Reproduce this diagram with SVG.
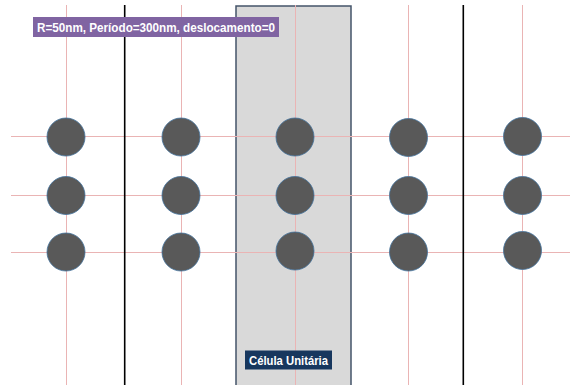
<svg xmlns="http://www.w3.org/2000/svg" width="570" height="385" viewBox="0 0 570 385">
<style>
.grid{stroke:#eab4b4;stroke-width:1;fill:none}
.wall{stroke:#000;stroke-width:1.6}
.hole{fill:#595959;stroke:#41719c;stroke-width:0.8}
.lbl{font-family:"Liberation Sans",Arial,sans-serif;font-weight:bold;fill:#fff}
</style>
<rect width="570" height="385" fill="#fff"/>
<g id="unit-cell">
<rect x="236" y="6" width="115" height="381" fill="#d9d9d9" stroke="#44546a" stroke-width="1.5"/>
</g>
<g id="connectors">
<line class="grid" x1="66.5" y1="5" x2="66.5" y2="385"/>
<line class="grid" x1="181.5" y1="5" x2="181.5" y2="385"/>
<line class="grid" x1="295.5" y1="5" x2="295.5" y2="385"/>
<line class="grid" x1="408.5" y1="5" x2="408.5" y2="385"/>
<line class="grid" x1="522.5" y1="5" x2="522.5" y2="385"/>
<line class="grid" x1="11" y1="136.5" x2="570" y2="136.5"/>
<line class="grid" x1="11" y1="195.5" x2="570" y2="195.5"/>
<line class="grid" x1="11" y1="252.5" x2="570" y2="252.5"/>
<line class="wall" x1="124.7" y1="5" x2="124.7" y2="385"/>
<line class="wall" x1="463.3" y1="5" x2="463.3" y2="385"/>
</g>
<g id="holes">
<circle class="hole" cx="66" cy="137" r="19"/>
<circle class="hole" cx="66" cy="195.5" r="19"/>
<circle class="hole" cx="66" cy="252" r="19"/>
<circle class="hole" cx="181" cy="137" r="19"/>
<circle class="hole" cx="181" cy="195.5" r="19"/>
<circle class="hole" cx="181" cy="252" r="19"/>
<circle class="hole" cx="295" cy="137" r="19"/>
<circle class="hole" cx="295" cy="195.5" r="19"/>
<circle class="hole" cx="295" cy="251" r="19"/>
<circle class="hole" cx="408.5" cy="137.5" r="19"/>
<circle class="hole" cx="408.5" cy="195.5" r="19"/>
<circle class="hole" cx="408.5" cy="252" r="19"/>
<circle class="hole" cx="522.5" cy="136.5" r="19"/>
<circle class="hole" cx="522.5" cy="195.5" r="19"/>
<circle class="hole" cx="522.5" cy="250.5" r="19"/>
</g>
<g id="title-label">
<rect x="33" y="17" width="246" height="20" fill="#8064a2"/>
<text class="lbl" x="37" y="32" font-size="13" textLength="238" lengthAdjust="spacingAndGlyphs">R=50nm, Período=300nm, deslocamento=0</text>
</g>
<g id="cell-label">
<rect x="245" y="350.5" width="87" height="19" fill="#17375e"/>
<text class="lbl" x="288.5" y="365" font-size="13" text-anchor="middle" textLength="79" lengthAdjust="spacingAndGlyphs">Célula Unitária</text>
</g>
</svg>
